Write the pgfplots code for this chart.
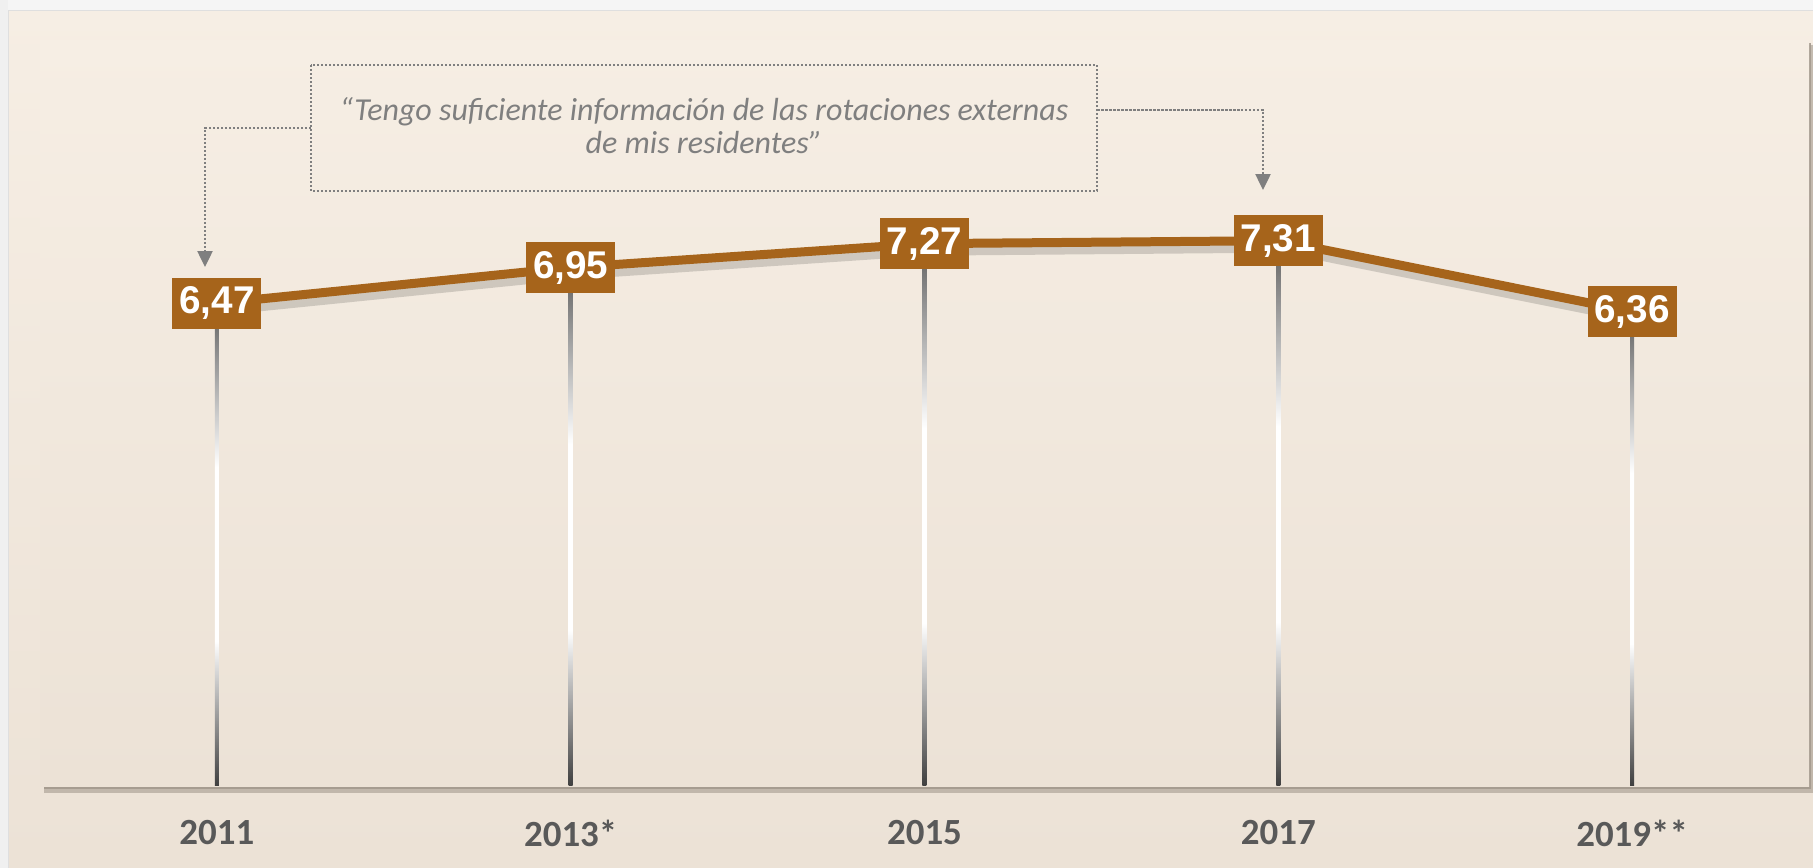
\documentclass[border=0pt]{standalone}
\usepackage{pgfplots}
\pgfplotsset{compat=1.18}
\usepackage{fontspec}
\usetikzlibrary{arrows.meta}
\setmainfont{Carlito}
\newfontfamily\valfont{Liberation Sans}

\definecolor{bgtop}{HTML}{F6EEE4}
\definecolor{bgbot}{HTML}{ECE2D6}
\definecolor{shadowc}{HTML}{A49A8E}
\definecolor{linebrown}{HTML}{A6641B}
\definecolor{yeargray}{HTML}{595959}
\definecolor{quotegray}{HTML}{7F7F7F}
\definecolor{dropdark}{HTML}{3F3F3F}
\definecolor{droptop}{HTML}{5E5E5E}

% drop line: dark at the axis, white in the middle, grey under the label
\pgfdeclareverticalshading{dropline}{100bp}{%
  color(0bp)=(dropdark); color(25bp)=(dropdark); color(40bp)=(white);
  color(58bp)=(white); color(75bp)=(droptop); color(100bp)=(droptop)}

\begin{document}
\begin{tikzpicture}
\begin{scope}[x=0.1mm, y=-0.1mm]
  \path[use as bounding box] (0,0) rectangle (1813,868);
  \fill[top color=bgtop, bottom color=bgbot] (0,0) rectangle (1813,868);
  \fill[gray!8] (0,0) rectangle (1813,10);
  \fill[gray!12] (0,0) rectangle (8,868);
  \draw[gray!25, line width=0.1mm] (8,868) -- (8,10) -- (1813,10);
  % panel with shadow
  \fill[shadowc, opacity=0.6] (44,45) rectangle (1813,793);
  \fill[shadowc, opacity=0.9] (44,43) rectangle (1811,789);
  \fill[top color=bgtop, bottom color=bgbot] (40,40) rectangle (1809,786);
  % callout
  \draw[quotegray, line width=0.2mm, dash pattern=on 0.2mm off 0.2mm]
    (311,65) rectangle (1097,191);
  \node[anchor=base, text=quotegray, font=\itshape\fontsize{9.1pt}{11pt}\selectfont]
    at (704,120) {“Tengo suficiente información de las rotaciones externas};
  \node[anchor=base, text=quotegray, font=\itshape\fontsize{9.1pt}{11pt}\selectfont]
    at (704,153) {de mis residentes”};
  \draw[quotegray, line width=0.25mm, dash pattern=on 0.25mm off 0.15mm,
        -{Triangle[width=1.5mm,length=1.6mm]}]
    (311,128) -- (205,128) -- (205,267);
  \draw[quotegray, line width=0.25mm, dash pattern=on 0.25mm off 0.15mm,
        -{Triangle[width=1.5mm,length=1.6mm]}]
    (1097,110) -- (1263,110) -- (1263,190);
\end{scope}

\begin{axis}[
  at={(4mm,-78.6mm)}, anchor=south west,
  scale only axis, width=176.9mm, height=74.6mm,
  xmin=-0.5, xmax=4.5, ymin=0, ymax=10,
  axis line style={draw=none},
  xtick={0,1,2,3,4},
  xticklabels={2011,2013*,2015,2017,2019**},
  ytick=\empty,
  major tick length=0pt,
  xticklabel style={font=\bfseries\fontsize{10.5pt}{12pt}\selectfont,
    text=yeargray, anchor=center, yshift=-4.7mm},
  clip=false,
  /pgf/number format/assume math mode=true,
]
% drop lines
\addplot[ybar, bar width=0.4mm, draw=none, shading=dropline, shade] coordinates {(0,6.47)};
\addplot[ybar, bar width=0.4mm, draw=none, shading=dropline, shade] coordinates {(1,6.95)};
\addplot[ybar, bar width=0.4mm, draw=none, shading=dropline, shade] coordinates {(2,7.27)};
\addplot[ybar, bar width=0.4mm, draw=none, shading=dropline, shade] coordinates {(3,7.31)};
\addplot[ybar, bar width=0.4mm, draw=none, shading=dropline, shade] coordinates {(4,6.36)};
% shadow of the line
\addplot[black, opacity=0.15, line width=1.2mm,
  transform canvas={xshift=0.3mm, yshift=-0.6mm}]
  coordinates {(0,6.47) (1,6.95) (2,7.27) (3,7.31) (4,6.36)};
% the series
\addplot[linebrown, line width=0.9mm,
  point meta=y,
  nodes near coords={\pgfmathprintnumber[fixed,fixed zerofill,precision=2,use comma]{\pgfplotspointmeta}},
  every node near coord/.append style={anchor=center, fill=linebrown, text=white,
    font=\valfont\bfseries\fontsize{11pt}{12pt}\selectfont,
    minimum width=8.9mm, minimum height=5.1mm, inner sep=0pt},
] coordinates {(0,6.47) (1,6.95) (2,7.27) (3,7.31) (4,6.36)};
\end{axis}
\end{tikzpicture}
\end{document}
